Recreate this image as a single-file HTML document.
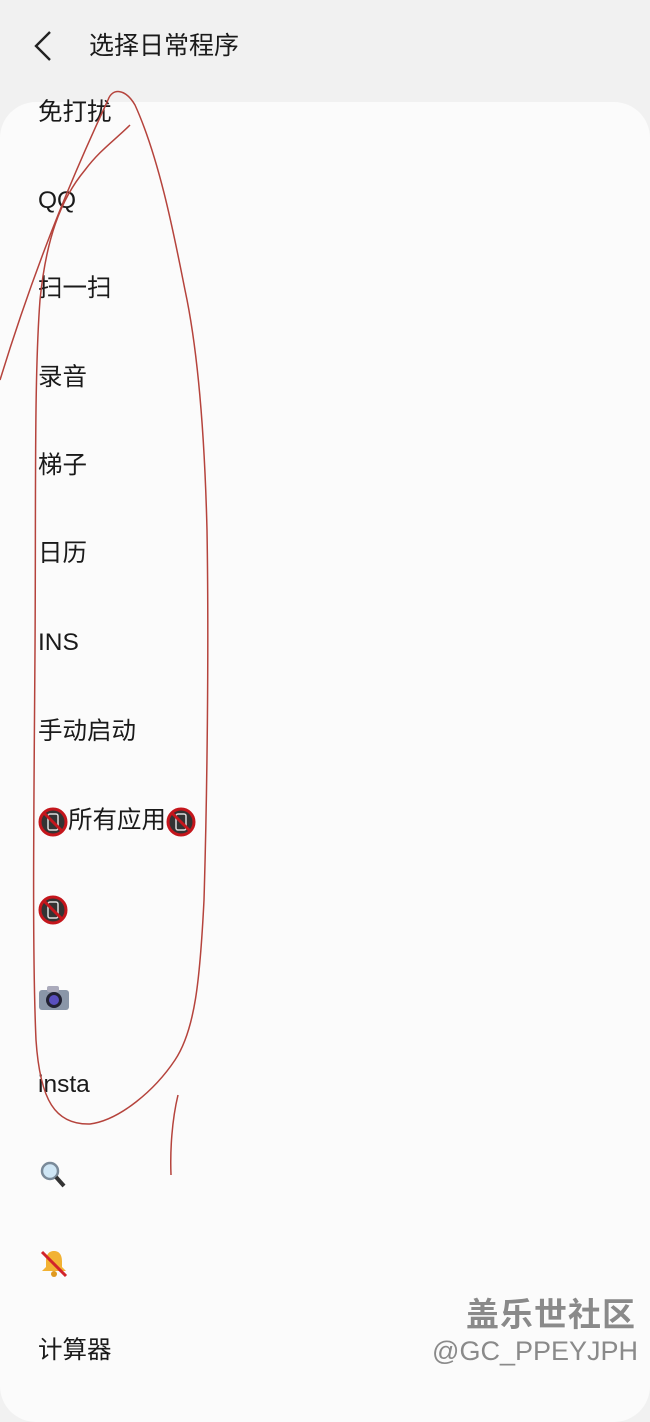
<!DOCTYPE html>
<html><head><meta charset="utf-8">
<style>
html,body{margin:0;padding:0}
body{width:650px;height:1391px;background:#f1f1f1;position:relative;overflow:hidden;font-family:"Liberation Sans","Noto Sans CJK SC",sans-serif;color:#1a1a1a}
.card{position:absolute;left:0;top:102px;width:650px;height:1320px;background:#fbfbfb;border-radius:36px}
.t{position:absolute;left:38px;font-size:24.5px;line-height:30px;white-space:nowrap;margin-top:2px}
.title{position:absolute;left:89px;top:30px;font-size:25px;line-height:32px}
.wm1{position:absolute;right:14px;top:1288px;font-size:33px;color:#8a8a8a;font-weight:bold;letter-spacing:1px;text-shadow:1px 1px 0 #fff}
.wm2{position:absolute;right:12px;top:1336px;font-size:27px;color:#8a8a8a}
.ic{display:inline-block;vertical-align:middle}
</style></head><body>
<svg style="position:absolute;left:32px;top:30px" width="22" height="32"><polyline points="18,2 4,16 18,30" fill="none" stroke="#222" stroke-width="2.4"/></svg>
<div class="title">选择日常程序</div>
<div class="card"></div>
<div class="t" style="top:96px">免打扰</div>
<div class="t" style="top:184px">QQ</div>
<div class="t" style="top:272px">扫一扫</div>
<div class="t" style="top:361px">录音</div>
<div class="t" style="top:449px">梯子</div>
<div class="t" style="top:537px">日历</div>
<div class="t" style="top:626px">INS</div>
<div class="t" style="top:715px">手动启动</div>
<div class="t" style="top:804px"><svg class="ic" width="30" height="30" viewBox="0 0 30 30"><circle cx="15" cy="15" r="13" fill="#333" stroke="#c4161c" stroke-width="3"/><rect x="10" y="7" width="10" height="16" rx="2" fill="none" stroke="#ddd" stroke-width="1.5"/><line x1="6" y1="6" x2="24" y2="24" stroke="#c4161c" stroke-width="3"/></svg>所有应用<svg class="ic" width="30" height="30" viewBox="0 0 30 30"><circle cx="15" cy="15" r="13" fill="#333" stroke="#c4161c" stroke-width="3"/><rect x="10" y="7" width="10" height="16" rx="2" fill="none" stroke="#ddd" stroke-width="1.5"/><line x1="6" y1="6" x2="24" y2="24" stroke="#c4161c" stroke-width="3"/></svg></div>
<div class="t" style="top:892px"><svg class="ic" width="30" height="30" viewBox="0 0 30 30"><circle cx="15" cy="15" r="13" fill="#333" stroke="#c4161c" stroke-width="3"/><rect x="10" y="7" width="10" height="16" rx="2" fill="none" stroke="#ddd" stroke-width="1.5"/><line x1="6" y1="6" x2="24" y2="24" stroke="#c4161c" stroke-width="3"/></svg></div>
<div class="t" style="top:980px"><svg class="ic" width="32" height="28" viewBox="0 0 32 28"><rect x="1" y="6" width="30" height="20" rx="3" fill="#8a96a8"/><rect x="9" y="2" width="12" height="6" rx="2" fill="#aab"/><circle cx="16" cy="16" r="8" fill="#223"/><circle cx="16" cy="16" r="5" fill="#5a4fbf"/></svg></div>
<div class="t" style="top:1068px">insta</div>
<div class="t" style="top:1156px"><svg class="ic" width="30" height="30" viewBox="0 0 30 30"><circle cx="12" cy="12" r="8" fill="#cfe6f5" stroke="#7a8a99" stroke-width="2.5"/><line x1="18" y1="18" x2="26" y2="27" stroke="#333" stroke-width="4"/></svg></div>
<div class="t" style="top:1245px"><svg class="ic" width="32" height="30" viewBox="0 0 32 30"><path d="M16 3c-6 0-8 5-8 10v6l-4 4h24l-4-4v-6c0-5-2-10-8-10z" fill="#f2b233"/><circle cx="16" cy="26" r="3" fill="#e09a20"/><line x1="4" y1="4" x2="28" y2="28" stroke="#d2232a" stroke-width="3"/></svg></div>
<div class="t" style="top:1334px">计算器</div>
<svg style="position:absolute;left:0;top:0" width="650" height="1391">
<g fill="none" stroke="#b5433c" stroke-width="1.5">
<path d="M108,100 C112,88 125,88 135,105 C160,160 175,240 185,290 C200,360 205,450 207,530 C209,650 207,800 204,900 C200,980 195,1030 175,1060 C155,1090 120,1120 90,1124 C55,1125 40,1100 36,1040 C32,950 34,800 35,650 C36,500 34,380 40,300 C46,240 60,200 85,170 C100,150 115,140 130,125"/>
<path d="M108,100 C80,160 40,250 0,380"/>
<path d="M178,1095 C172,1120 170,1150 171,1175"/>
</g></svg>
<div class="wm1">盖乐世社区</div>
<div class="wm2">@GC_PPEYJPH</div>
</body></html>
